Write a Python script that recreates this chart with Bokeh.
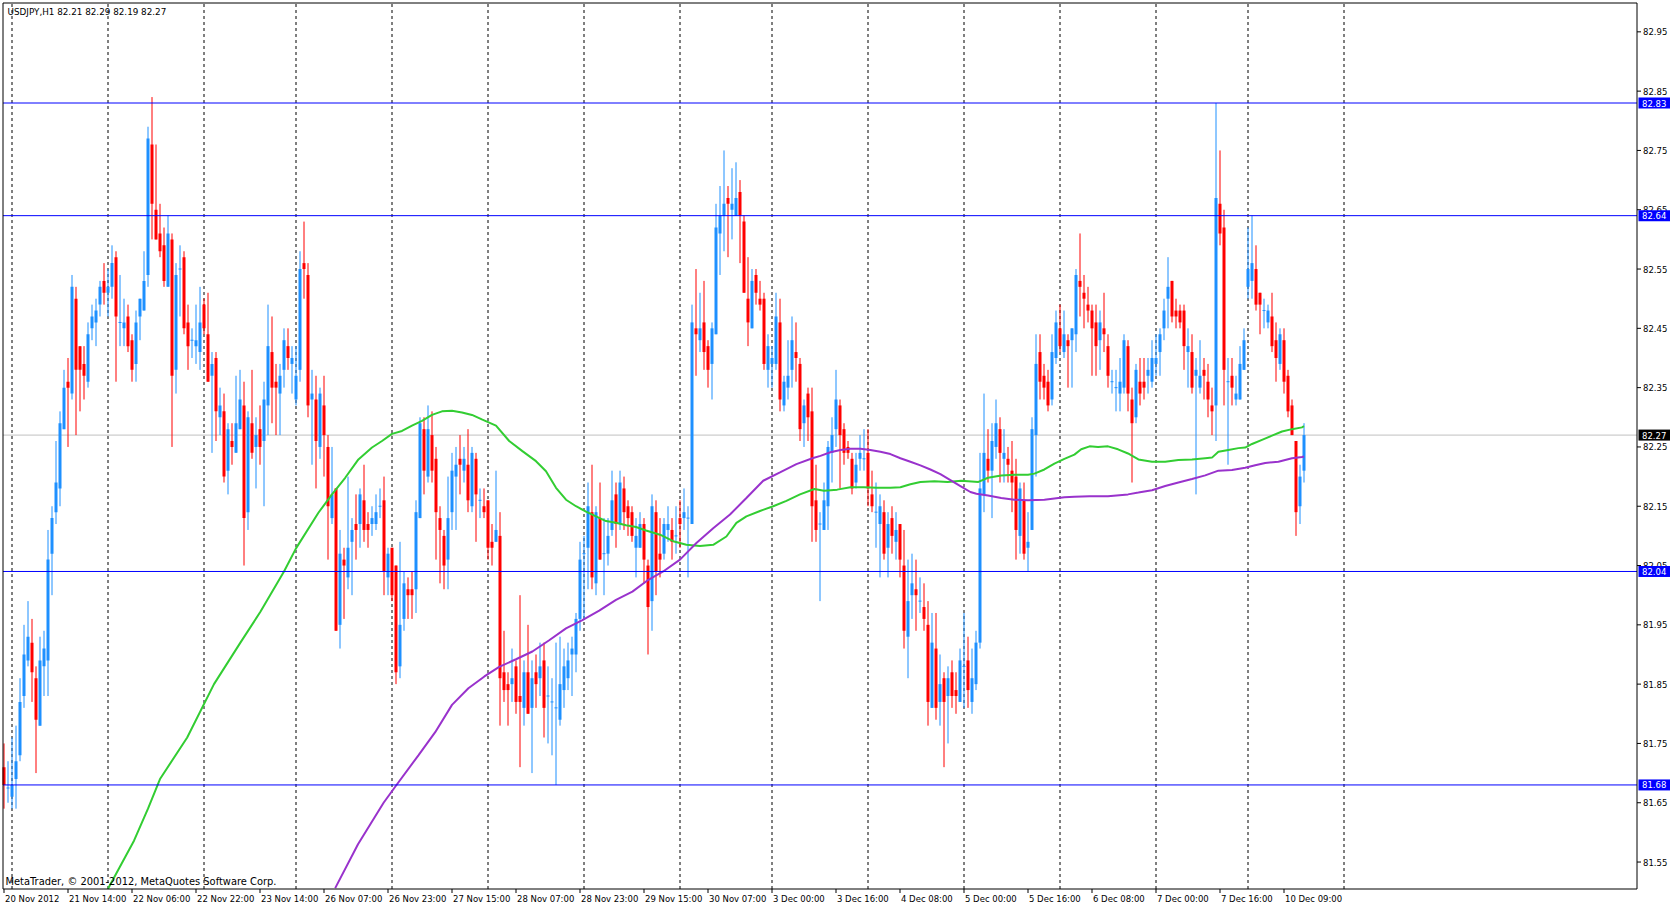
import numpy as np
from bokeh.plotting import figure
from bokeh.models import Range1d, Label, ColumnDataSource
from bokeh.core.properties import value
from bokeh.embed import file_html
from bokeh.resources import INLINE

symbol = "USDJPY,H1"

open_ = [81.71, 81.675, 81.66, 81.69, 81.73, 81.83, 81.89, 81.92, 81.86, 81.78,
         81.88, 81.89, 82.07, 82.14, 82.18, 82.28, 82.36, 82.34, 82.50, 82.42,
         82.39, 82.36, 82.45, 82.46, 82.49, 82.53, 82.51, 82.52, 82.57, 82.46,
         82.45, 82.47, 82.43, 82.39, 82.47, 82.48, 82.54, 82.76, 82.65, 82.61,
         82.59, 82.52, 82.60, 82.38, 82.55, 82.57, 82.46, 82.43, 82.42, 82.41,
         82.49, 82.44, 82.37, 82.40, 82.30, 82.31, 82.21, 82.26, 82.24, 82.28,
         82.32, 82.14, 82.29, 82.25, 82.28, 82.26, 82.32, 82.41, 82.36, 82.34,
         82.38, 82.42, 82.39, 82.33, 82.38, 82.56, 82.54, 82.33, 82.33, 82.25,
         82.32, 82.25, 82.13, 82.18, 81.95, 82.06, 82.03, 82.09, 82.12, 82.12,
         82.16, 82.12, 82.12, 82.12, 82.15, 82.16, 82.03, 82.08, 82.05, 81.88,
         81.96, 82.01, 82.01, 82.01, 82.13, 82.28, 82.20, 82.27, 82.23, 82.13,
         82.10, 82.06, 82.14, 82.20, 82.23, 82.21, 82.22, 82.15, 82.23, 82.16,
         82.15, 82.16, 82.09, 82.09, 82.10, 81.87, 81.85, 81.85, 81.88, 81.83,
         81.81, 81.87, 81.81, 81.87, 81.86, 81.89, 81.83, 81.82, 81.81, 81.79,
         81.84, 81.86, 81.90, 81.90, 81.96, 82.07, 82.08, 82.14, 82.02, 82.13,
         82.07, 82.07, 82.11, 82.17, 82.12, 82.18, 82.15, 82.14, 82.08, 82.08,
         82.12, 82.05, 81.99, 82.14, 82.07, 82.07, 82.11, 82.11, 82.10, 82.13,
         82.13, 82.13, 82.12, 82.45, 82.43, 82.46, 82.42, 82.39, 82.44, 82.61,
         82.64, 82.67, 82.65, 82.64, 82.68, 82.63, 82.50, 82.45, 82.54, 82.50,
         82.50, 82.38, 82.39, 82.39, 82.46, 82.32, 82.35, 82.38, 82.41, 82.39,
         82.29, 82.34, 82.31, 82.16, 82.12, 82.11, 82.15, 82.24, 82.28, 82.32,
         82.28, 82.25, 82.23, 82.19, 82.23, 82.23, 82.24, 82.17, 82.14, 82.12,
         82.14, 82.08, 82.13, 82.09, 82.12, 82.05, 81.93, 82.00, 82.01, 81.99,
         81.98, 81.95, 81.81, 81.91, 81.82, 81.86, 81.83, 81.87, 81.84, 81.82,
         81.88, 81.89, 81.82, 81.85, 81.92, 82.17, 82.23, 82.21, 82.25, 82.28,
         82.23, 82.23, 82.21, 82.20, 82.10, 82.16, 82.08, 82.11, 82.27, 82.41,
         82.37, 82.36, 82.33, 82.40, 82.45, 82.41, 82.43, 82.43, 82.44, 82.53,
         82.51, 82.49, 82.48, 82.46, 82.43, 82.45, 82.42, 82.36, 82.35, 82.34,
         82.35, 82.42, 82.33, 82.30, 82.36, 82.36, 82.37, 82.36, 82.39, 82.41,
         82.45, 82.50, 82.53, 82.48, 82.48, 82.48, 82.41, 82.41, 82.37, 82.35,
         82.38, 82.36, 82.32, 82.32, 82.66, 82.62, 82.36, 82.37, 82.33, 82.33,
         82.38, 82.52, 82.53, 82.55, 82.51, 82.48, 82.46, 82.47, 82.43, 82.39,
         82.43, 82.37, 82.32, 82.26, 82.15, 82.21]

high = [81.75, 81.72, 81.76, 81.78, 81.86, 81.95, 81.99, 81.96, 81.88, 81.93,
        81.94, 82.11, 82.15, 82.26, 82.31, 82.38, 82.40, 82.54, 82.52, 82.42,
        82.42, 82.46, 82.49, 82.50, 82.53, 82.56, 82.55, 82.59, 82.58, 82.54,
        82.50, 82.49, 82.44, 82.48, 82.50, 82.58, 82.79, 82.84, 82.76, 82.66,
        82.62, 82.64, 82.61, 82.56, 82.59, 82.58, 82.49, 82.45, 82.49, 82.52,
        82.50, 82.51, 82.41, 82.41, 82.35, 82.34, 82.29, 82.29, 82.37, 82.38,
        82.36, 82.31, 82.38, 82.30, 82.32, 82.36, 82.49, 82.47, 82.39, 82.39,
        82.45, 82.45, 82.42, 82.42, 82.58, 82.63, 82.56, 82.38, 82.37, 82.35,
        82.37, 82.27, 82.25, 82.18, 82.11, 82.08, 82.20, 82.13, 82.17, 82.18,
        82.22, 82.14, 82.15, 82.17, 82.18, 82.20, 82.08, 82.08, 82.05, 82.09,
        82.04, 82.03, 82.04, 82.16, 82.30, 82.30, 82.32, 82.31, 82.25, 82.15,
        82.11, 82.20, 82.24, 82.25, 82.27, 82.25, 82.28, 82.25, 82.24, 82.18,
        82.18, 82.16, 82.12, 82.21, 82.14, 81.94, 81.87, 81.91, 81.89, 82.00,
        81.89, 81.95, 81.89, 81.90, 81.92, 81.92, 81.88, 81.86, 81.92, 81.93,
        81.91, 81.92, 81.93, 81.97, 82.09, 82.10, 82.19, 82.22, 82.15, 82.19,
        82.13, 82.13, 82.21, 82.19, 82.21, 82.20, 82.16, 82.15, 82.13, 82.14,
        82.13, 82.06, 82.17, 82.16, 82.13, 82.13, 82.15, 82.13, 82.15, 82.16,
        82.18, 82.15, 82.49, 82.55, 82.51, 82.53, 82.43, 82.46, 82.66, 82.69,
        82.75, 82.69, 82.72, 82.73, 82.70, 82.64, 82.57, 82.55, 82.55, 82.53,
        82.51, 82.44, 82.42, 82.51, 82.50, 82.37, 82.43, 82.47, 82.46, 82.40,
        82.33, 82.35, 82.35, 82.22, 82.14, 82.19, 82.26, 82.30, 82.38, 82.33,
        82.29, 82.26, 82.24, 82.24, 82.27, 82.28, 82.28, 82.21, 82.19, 82.17,
        82.16, 82.14, 82.15, 82.14, 82.12, 82.11, 82.06, 82.07, 82.06, 82.03,
        82.02, 81.99, 81.97, 81.97, 81.90, 81.87, 81.88, 81.89, 81.87, 81.91,
        81.97, 81.93, 81.91, 81.94, 82.24, 82.34, 82.28, 82.29, 82.33, 82.30,
        82.28, 82.25, 82.26, 82.23, 82.19, 82.19, 82.14, 82.30, 82.44, 82.44,
        82.39, 82.38, 82.44, 82.48, 82.49, 82.48, 82.44, 82.45, 82.55, 82.61,
        82.54, 82.52, 82.49, 82.49, 82.48, 82.51, 82.44, 82.38, 82.38, 82.40,
        82.44, 82.43, 82.35, 82.39, 82.40, 82.40, 82.40, 82.43, 82.44, 82.45,
        82.50, 82.57, 82.53, 82.50, 82.49, 82.49, 82.45, 82.44, 82.40, 82.43,
        82.40, 82.39, 82.35, 82.83, 82.75, 82.65, 82.40, 82.40, 82.37, 82.42,
        82.45, 82.62, 82.64, 82.59, 82.51, 82.50, 82.49, 82.51, 82.46, 82.45,
        82.45, 82.38, 82.33, 82.26, 82.22, 82.29]

low = [81.64, 81.65, 81.64, 81.64, 81.72, 81.81, 81.88, 81.82, 81.70, 81.78,
       81.83, 81.83, 82.00, 82.12, 82.15, 82.28, 82.25, 82.33, 82.27, 82.31,
       82.33, 82.35, 82.43, 82.42, 82.47, 82.49, 82.47, 82.50, 82.36, 82.42,
       82.42, 82.41, 82.36, 82.36, 82.43, 82.48, 82.52, 82.60, 82.60, 82.57,
       82.52, 82.52, 82.25, 82.34, 82.47, 82.44, 82.38, 82.40, 82.39, 82.38,
       82.44, 82.36, 82.24, 82.26, 82.27, 82.19, 82.17, 82.22, 82.24, 82.28,
       82.05, 82.11, 82.23, 82.18, 82.22, 82.15, 82.27, 82.29, 82.27, 82.27,
       82.35, 82.38, 82.34, 82.32, 82.36, 82.50, 82.30, 82.22, 82.18, 82.23,
       82.20, 82.06, 82.12, 81.94, 81.91, 81.96, 82.01, 82.00, 82.06, 82.08,
       82.09, 82.08, 82.10, 82.11, 82.13, 82.00, 82.00, 81.99, 81.85, 81.86,
       81.94, 81.96, 81.96, 81.97, 82.13, 82.17, 82.19, 82.19, 82.06, 82.02,
       82.01, 82.01, 82.11, 82.11, 82.17, 82.19, 82.14, 82.14, 82.09, 82.13,
       82.13, 82.06, 82.05, 82.09, 81.78, 81.82, 81.78, 81.82, 81.80, 81.71,
       81.78, 81.80, 81.70, 81.81, 81.83, 81.76, 81.75, 81.73, 81.68, 81.78,
       81.81, 81.84, 81.83, 81.87, 81.94, 81.96, 82.01, 82.01, 82.00, 82.06,
       82.00, 82.05, 82.10, 82.08, 82.11, 82.11, 82.10, 82.09, 82.03, 82.08,
       82.02, 81.90, 81.94, 82.00, 82.03, 82.06, 82.09, 82.06, 82.07, 82.08,
       82.11, 82.03, 82.12, 82.37, 82.41, 82.38, 82.35, 82.33, 82.44, 82.54,
       82.58, 82.57, 82.60, 82.64, 82.56, 82.51, 82.42, 82.45, 82.49, 82.48,
       82.38, 82.35, 82.35, 82.38, 82.31, 82.31, 82.33, 82.35, 82.36, 82.26,
       82.25, 82.26, 82.09, 82.09, 81.99, 82.11, 82.11, 82.19, 82.25, 82.18,
       82.22, 82.23, 82.17, 82.18, 82.21, 82.21, 82.15, 82.14, 82.08, 82.03,
       82.06, 82.03, 82.07, 82.06, 82.03, 81.91, 81.86, 81.96, 81.94, 81.97,
       81.94, 81.78, 81.81, 81.79, 81.78, 81.71, 81.75, 81.81, 81.80, 81.82,
       81.81, 81.81, 81.80, 81.84, 81.91, 82.14, 82.19, 82.13, 82.23, 82.19,
       82.19, 82.19, 82.14, 82.06, 82.07, 82.06, 82.04, 82.11, 82.20, 82.33,
       82.33, 82.31, 82.32, 82.39, 82.41, 82.40, 82.35, 82.35, 82.41, 82.47,
       82.45, 82.46, 82.37, 82.37, 82.38, 82.41, 82.35, 82.34, 82.31, 82.31,
       82.34, 82.31, 82.19, 82.29, 82.32, 82.33, 82.34, 82.35, 82.37, 82.37,
       82.43, 82.45, 82.46, 82.45, 82.45, 82.38, 82.35, 82.34, 82.17, 82.34,
       82.33, 82.30, 82.27, 82.26, 82.59, 82.32, 82.22, 82.32, 82.32, 82.33,
       82.38, 82.50, 82.50, 82.48, 82.44, 82.45, 82.45, 82.41, 82.36, 82.38,
       82.34, 82.30, 82.27, 82.10, 82.12, 82.19]

close = [81.68, 81.675, 81.68, 81.72, 81.82, 81.90, 81.93, 81.87, 81.79, 81.89,
         81.91, 82.06, 82.13, 82.19, 82.29, 82.35, 82.35, 82.52, 82.38, 82.38,
         82.37, 82.44, 82.47, 82.48, 82.52, 82.51, 82.52, 82.56, 82.47, 82.46,
         82.46, 82.42, 82.38, 82.46, 82.50, 82.53, 82.77, 82.66, 82.60, 82.58,
         82.53, 82.61, 82.37, 82.54, 82.55, 82.45, 82.42, 82.43, 82.43, 82.46,
         82.45, 82.36, 82.39, 82.31, 82.32, 82.20, 82.28, 82.25, 82.29, 82.33,
         82.13, 82.30, 82.24, 82.27, 82.25, 82.33, 82.42, 82.35, 82.35, 82.37,
         82.43, 82.40, 82.40, 82.37, 82.55, 82.55, 82.32, 82.34, 82.26, 82.34,
         82.27, 82.15, 82.17, 81.94, 82.07, 82.05, 82.08, 82.11, 82.11, 82.17,
         82.11, 82.11, 82.13, 82.14, 82.15, 82.04, 82.07, 82.00, 81.87, 81.95,
         82.02, 82.00, 82.00, 82.14, 82.29, 82.21, 82.28, 82.21, 82.14, 82.11,
         82.05, 82.13, 82.21, 82.22, 82.22, 82.23, 82.16, 82.24, 82.17, 82.16,
         82.14, 82.08, 82.08, 82.11, 81.86, 81.84, 81.84, 81.86, 81.82, 81.82,
         81.87, 81.80, 81.86, 81.85, 81.88, 81.81, 81.83, 81.82, 81.81, 81.85,
         81.88, 81.89, 81.91, 81.96, 82.06, 82.07, 82.15, 82.03, 82.14, 82.06,
         82.07, 82.10, 82.16, 82.12, 82.19, 82.14, 82.13, 82.10, 82.10, 82.12,
         82.06, 81.98, 82.15, 82.04, 82.06, 82.12, 82.12, 82.09, 82.10, 82.12,
         82.14, 82.13, 82.46, 82.44, 82.45, 82.41, 82.38, 82.45, 82.62, 82.64,
         82.66, 82.66, 82.66, 82.67, 82.64, 82.51, 82.46, 82.53, 82.51, 82.49,
         82.39, 82.42, 82.40, 82.47, 82.33, 82.36, 82.37, 82.43, 82.40, 82.28,
         82.32, 82.30, 82.15, 82.11, 82.12, 82.16, 82.25, 82.27, 82.33, 82.27,
         82.24, 82.24, 82.18, 82.22, 82.24, 82.23, 82.18, 82.15, 82.14, 82.15,
         82.07, 82.12, 82.10, 82.11, 82.06, 81.94, 81.99, 82.02, 82.00, 81.99,
         81.96, 81.82, 81.92, 81.81, 81.85, 81.82, 81.86, 81.83, 81.83, 81.89,
         81.88, 81.84, 81.86, 81.92, 82.18, 82.24, 82.21, 82.26, 82.29, 82.24,
         82.24, 82.22, 82.19, 82.11, 82.18, 82.07, 82.09, 82.28, 82.39, 82.36,
         82.35, 82.32, 82.41, 82.46, 82.42, 82.44, 82.42, 82.45, 82.54, 82.52,
         82.50, 82.48, 82.45, 82.42, 82.46, 82.44, 82.37, 82.36, 82.35, 82.36,
         82.43, 82.34, 82.29, 82.38, 82.34, 82.35, 82.38, 82.40, 82.40, 82.44,
         82.48, 82.52, 82.47, 82.47, 82.46, 82.42, 82.42, 82.35, 82.38, 82.37,
         82.37, 82.33, 82.31, 82.67, 82.61, 82.38, 82.36, 82.35, 82.34, 82.39,
         82.43, 82.55, 82.56, 82.49, 82.49, 82.48, 82.48, 82.42, 82.40, 82.44,
         82.36, 82.31, 82.27, 82.14, 82.20, 82.27]

# moving averages: (bar index, price)
ma_fast_x = [26.0, 32.5, 36, 39, 45.8, 52.5, 59.1, 64.1, 70, 73, 78.6, 82, 85.3, 88.6, 92, 94.5, 97, 99.5,
             102, 104.5, 107, 109.5, 112, 114.5, 117, 119.6, 123, 126.3, 129.6, 133, 135.5, 138, 140.5,
             143, 145.5, 148, 150.5, 153, 155.5, 158, 160.5, 164, 167.3, 170.6, 174, 177.3, 180.6, 183.1,
             185.6, 189, 192.3, 195.6, 199, 202.6, 205, 208.3, 211.6, 215, 218.3, 221.6, 224.1, 226.6,
             229.1, 232.6, 235.9, 239.3, 243.6, 246, 249.3, 252.6, 256, 257.6, 260.1, 262.6, 265.1, 267.6,
             269.3, 271.4, 273.5, 276, 278.5, 281, 283.6, 287, 290.3, 293.6, 297, 300.3, 302, 303.6, 306.1,
             308.6, 310.3, 312, 314.5, 317, 319.5, 322, 324.5, 325]
ma_fast_y = [81.505, 81.586, 81.64, 81.69, 81.76, 81.85, 81.92, 81.972, 82.04, 82.079, 82.139, 82.17, 82.198,
             82.229, 82.249, 82.26, 82.272, 82.277, 82.286, 82.294, 82.304, 82.31, 82.311, 82.308, 82.304,
             82.296, 82.286, 82.26, 82.243, 82.226, 82.209, 82.181, 82.161, 82.15, 82.141, 82.133, 82.125,
             82.122, 82.118, 82.115, 82.109, 82.102, 82.091, 82.085, 82.083, 82.085, 82.099, 82.122, 82.133,
             82.142, 82.150, 82.159, 82.170, 82.179, 82.176, 82.178, 82.182, 82.182, 82.181, 82.181, 82.182,
             82.187, 82.191, 82.192, 82.191, 82.193, 82.191, 82.198, 82.202, 82.203, 82.203, 82.205, 82.212,
             82.222, 82.230, 82.237, 82.246, 82.251, 82.250, 82.251, 82.246, 82.239, 82.229, 82.225, 82.225,
             82.228, 82.229, 82.231, 82.232, 82.242, 82.245, 82.248, 82.249, 82.255, 82.262, 82.269, 82.276,
             82.280, 82.283, 82.285]
ma_slow_x = [82.8, 88.5, 94.9, 97.8, 103.6, 107.8, 112, 116.1, 120.1, 123.8, 128, 132.1, 136.3, 140.5, 144.6,
             148.8, 153, 157.1, 161.1, 164.8, 169, 173.1, 177.3, 181.5, 185.6, 189.8, 194, 198.1, 202.1,
             204.1, 206.6, 209.1, 211.6, 214.1, 216.6, 219.1, 221.6, 224.1, 226.6, 229.1, 231.6, 234.1,
             236.6, 239.1, 241.6, 243.1, 246, 249.3, 252.6, 256, 260.1, 262.6, 265.1, 267.6, 271.4, 276,
             281, 283.6, 287, 290.3, 293.6, 297, 300.3, 303.6, 307, 310.3, 312.8, 315.3, 318.6, 322, 324.5, 325]
ma_slow_y = [81.506, 81.58, 81.65, 81.677, 81.73, 81.769, 81.815, 81.843, 81.863, 81.879, 81.892, 81.905,
             81.924, 81.944, 81.958, 81.974, 81.992, 82.006, 82.026, 82.04, 82.06, 82.088, 82.113, 82.136,
             82.164, 82.193, 82.207, 82.221, 82.231, 82.235, 82.241, 82.245, 82.247, 82.247, 82.245, 82.242,
             82.238, 82.231, 82.225, 82.219, 82.212, 82.204, 82.194, 82.184, 82.174, 82.171, 82.168, 82.164,
             82.161, 82.160, 82.161, 82.163, 82.165, 82.166, 82.167, 82.167, 82.170, 82.173, 82.177, 82.184,
             82.190, 82.196, 82.202, 82.210, 82.211, 82.215, 82.219, 82.223, 82.225, 82.231, 82.233, 82.234]

tick_bars = [0, 16, 32, 48, 64, 80, 96, 112, 128, 144, 160, 176, 192, 208, 224, 240, 256, 272, 288, 304, 320]
tick_labels = ["20 Nov 2012", "21 Nov 14:00", "22 Nov 06:00", "22 Nov 22:00", "23 Nov 14:00",
               "26 Nov 07:00", "26 Nov 23:00", "27 Nov 15:00", "28 Nov 07:00", "28 Nov 23:00",
               "29 Nov 15:00", "30 Nov 07:00", "3 Dec 00:00", "3 Dec 16:00", "4 Dec 08:00",
               "5 Dec 00:00", "5 Dec 16:00", "6 Dec 08:00", "7 Dec 00:00", "7 Dec 16:00", "10 Dec 09:00"]
day_starts = [2, 26, 50, 73, 97, 121, 145, 169, 192, 216, 240, 264, 288, 311, 335]
price_ticks = [81.55, 81.65, 81.75, 81.85, 81.95, 82.05, 82.15, 82.25, 82.35, 82.45,
               82.55, 82.65, 82.75, 82.85, 82.95]
levels = [82.83, 82.64, 82.04, 81.68]

BULL = "#1E90FF"
BEAR = "#FF0000"
LEVEL_COLOR = "#0000FF"
FONT = "DejaVu Sans"
FS = "8.5px"

# ---- pixel layout (the whole canvas is the plotting frame) ----
W, H = 1674, 906
PX_BAR = 4.0          # pixels per hourly bar
PX_PRICE = 593.0      # pixels per 1.00 JPY
BAR0_PX = 3.5         # pixel centre of the first bar
REF_PRICE, REF_PY = 82.83, 102.5


def X(px):
    return (px - BAR0_PX) / PX_BAR


def Y(py):
    return REF_PRICE - (py - REF_PY) / PX_PRICE


CL, CR, CT, CB = 2.5, 1636.5, 2.5, 888.5   # chart border (pixel centres)
xl, xr, yt, yb = X(CL), X(CR), Y(CT), Y(CB)

o = np.array(open_); hh = np.array(high); ll = np.array(low); c = np.array(close)
idx = np.arange(len(c))
btop = np.maximum(o, c)
bbot = np.minimum(o, c)
mind = 1.0 / PX_PRICE
doji = (btop - bbot) < mind
mid = (o + c) / 2
btop = np.where(doji, mid + mind / 2, btop)
bbot = np.where(doji, mid - mind / 2, bbot)
cols = np.where(c >= o, BULL, BEAR).tolist()
src = ColumnDataSource(dict(x=idx, hi=np.maximum(hh, btop), lo=np.minimum(ll, bbot),
                            top=btop, bot=bbot, color=cols))

p = figure(width=W, height=H, x_range=Range1d(X(0), X(W)), y_range=Range1d(Y(H), Y(0)),
           x_axis_location=None, y_axis_location=None, output_backend="svg",
           toolbar_location=None, min_border=0,
           background_fill_color="white", border_fill_color="white")
p.xgrid.visible = False
p.ygrid.visible = False
p.outline_line_color = None

# day separators (dashed grid)
nd = len(day_starts)
p.segment(x0=day_starts, y0=[yb] * nd, x1=day_starts, y1=[yt] * nd,
          line_color="black", line_dash="3 3", line_width=1)

# bid line
p.segment(x0=[xl], y0=[close[-1]], x1=[xr], y1=[close[-1]], line_color="#C0C0C0", line_width=1)

# candles
p.segment(x0="x", y0="lo", x1="x", y1="hi", line_color="color", line_width=1, source=src)
p.vbar(x="x", width=0.75, top="top", bottom="bot", fill_color="color", line_color=None, source=src)

# moving averages
p.line(ma_fast_x, ma_fast_y, line_color="#32CD32", line_width=2)
p.line(ma_slow_x, ma_slow_y, line_color="#9932CC", line_width=2)

# horizontal levels
nl = len(levels)
p.segment(x0=[xl] * nl, y0=levels, x1=[xr] * nl, y1=levels, line_color=LEVEL_COLOR, line_width=1)

# chart border
p.quad(left=[xl], right=[xr], top=[yt], bottom=[yb], fill_color=None, line_color="black", line_width=1)

# right price scale
npt = len(price_ticks)
p.segment(x0=[xr] * npt, y0=price_ticks, x1=[X(CR + 4)] * npt, y1=price_ticks,
          line_color="black", line_width=1)
p.text(x=[X(CR + 6)] * npt, y=price_ticks, text=[f"{v:.2f}" for v in price_ticks],
       text_font=value(FONT), text_font_size=value(FS), text_color="black",
       text_baseline="middle", text_align="left")

# price boxes for levels and bid
box_vals = levels + [close[-1]]
box_cols = [LEVEL_COLOR] * nl + ["black"]
half_h = 5.5 / PX_PRICE
p.quad(left=[X(CR + 1.5)] * len(box_vals), right=[X(CR + 33)] * len(box_vals),
       top=[v + half_h for v in box_vals], bottom=[v - half_h for v in box_vals],
       fill_color=box_cols, line_color=None)
p.text(x=[X(CR + 5)] * len(box_vals), y=box_vals, text=[f"{v:.2f}" for v in box_vals],
       text_font=value(FONT), text_font_size=value(FS), text_color="white",
       text_baseline="middle", text_align="left")

# time scale
nt = len(tick_bars)
p.segment(x0=tick_bars, y0=[yb] * nt, x1=tick_bars, y1=[Y(CB + 4)] * nt, line_color="black", line_width=1)
p.text(x=[b + 1.0 / PX_BAR for b in tick_bars], y=[Y(898)] * nt, text=tick_labels,
       text_font=value(FONT), text_font_size=value(FS), text_color="black",
       text_baseline="middle", text_align="left")

header = f"{symbol}  {open_[-1]:.2f} {high[-1]:.2f} {low[-1]:.2f} {close[-1]:.2f}"
p.add_layout(Label(x=X(7), y=Y(11), text=header, text_font=FONT,
                   text_font_size="8.8px", text_color="black", text_baseline="middle", text_align="left"))
p.add_layout(Label(x=X(5), y=Y(881), text="MetaTrader, \u00a9 2001-2012, MetaQuotes Software Corp.",
                   text_font=FONT, text_font_size="9.9px", text_color="black",
                   text_baseline="middle", text_align="left"))

open("out.html", "w").write(file_html(p, INLINE))
